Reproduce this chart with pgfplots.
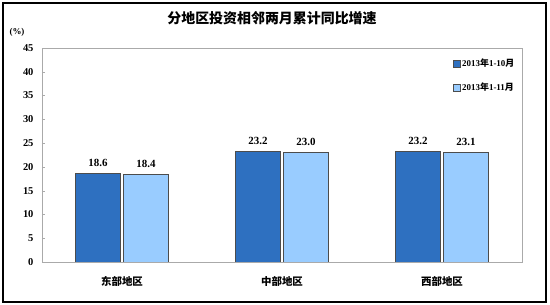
\documentclass[border=0pt]{standalone}
\usepackage{pgfplots}
\pgfplotsset{compat=1.18}
\usepackage{fontspec}
\setmainfont{Liberation Serif}
\newfontfamily\cjk{Noto Sans CJK SC}
\definecolor{darkb}{RGB}{46,112,192}
\definecolor{lightb}{RGB}{153,204,255}
\definecolor{axgray}{RGB}{170,170,170}
\begin{document}
\begin{tikzpicture}
\path (0bp,0bp) rectangle (550bp,305bp);
\draw[line width=1.5bp] (3bp,3bp) rectangle (546bp,302bp);
\begin{axis}[
  at={(42bp,43bp)}, anchor=south west, scale only axis,
  width=480bp, height=214bp,
  ymin=0, ymax=45, ytick={0,5,...,45},
  xmin=-0.5, xmax=2.5, xtick={0,1,2},
  xticklabels={东部地区,中部地区,西部地区},
  xticklabel style={font=\cjk\bfseries\fontsize{10.5}{12}\selectfont, yshift=-8bp},
  yticklabel style={font=\bfseries\fontsize{10.5}{12}\selectfont, xshift=-5bp},
  /pgf/number format/assume math mode=true,
  ytick pos=left,
  major x tick style={draw=none},
  major tick length=3bp,
  tick style={axgray},
  axis line style={axgray},
  ybar=3bp, bar width=45bp,
  nodes near coords={\pgfmathprintnumber[fixed,fixed zerofill,precision=1]{\pgfplotspointmeta}},
  nodes near coords style={font=\bfseries\fontsize{11}{12}\selectfont, yshift=3bp},
  legend style={draw=none, fill=none, at={(0.995,0.97)}, anchor=north east,
    font=\bfseries\fontsize{9}{10}\selectfont, row sep=11bp, cells={anchor=west}},
  legend image code/.code={\draw[#1] (0bp,-3.5bp) rectangle (7bp,3.5bp);},
]
\addplot[fill=darkb, draw=black!70] coordinates {(0,18.6) (1,23.2) (2,23.2)};
\addplot[fill=lightb, draw=black!70] coordinates {(0,18.4) (1,23.0) (2,23.1)};
\legend{2013{\cjk 年}1-10{\cjk 月}, 2013{\cjk 年}1-11{\cjk 月}}
\end{axis}
\node at (272bp,287bp) {\cjk\bfseries\fontsize{14}{16}\selectfont 分地区投资相邻两月累计同比增速};
\node at (17bp,273bp) {\bfseries\fontsize{9}{10}\selectfont (\%)};
\end{tikzpicture}
\end{document}
